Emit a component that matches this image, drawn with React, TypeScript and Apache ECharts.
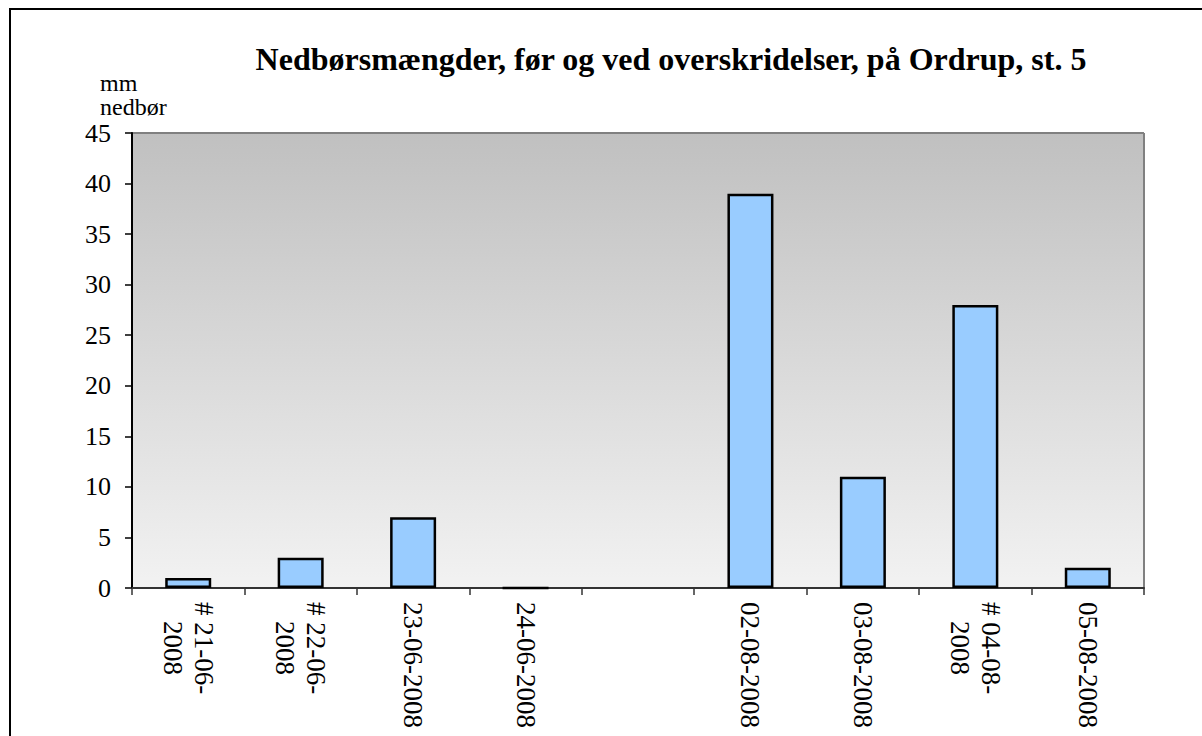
import React, { useEffect, useRef } from "react";
import * as echarts from "echarts";

const categories = [
  "# 21-06-2008",
  "# 22-06-2008",
  "23-06-2008",
  "24-06-2008",
  "",
  "02-08-2008",
  "03-08-2008",
  "# 04-08-2008",
  "05-08-2008",
];
const rainfall: (number | null)[] = [1, 3, 7, 0, null, 39, 11, 28, 2];
const titleText = "Nedbørsmængder, før og ved overskridelser, på Ordrup, st. 5";
const yAxisName = "mm\nnedbør";

const FONT = "Liberation Serif";

export default function App() {
  const ref = useRef<HTMLDivElement>(null);
  useEffect(() => {
    if (!ref.current) return;
    const chart = echarts.init(ref.current, undefined, { renderer: "svg" });
    chart.setOption({
      animation: false,
      backgroundColor: "#ffffff",
      textStyle: { fontFamily: FONT },
      title: {
        text: titleText,
        left: 666,
        top: 38,
        textAlign: "center",
        textStyle: { fontFamily: FONT, fontSize: 32, fontWeight: "bold", color: "#000" },
      },
      graphic: [
        { type: "line", shape: { x1: 9, y1: 9, x2: 1202, y2: 9 }, style: { stroke: "#000", lineWidth: 2 } },
        { type: "line", shape: { x1: 10, y1: 9, x2: 10, y2: 736 }, style: { stroke: "#000", lineWidth: 2 } },
        {
          type: "text",
          left: 100,
          top: 71,
          style: { text: yAxisName, fontFamily: FONT, fontSize: 24, fill: "#000", lineHeight: 24 },
        },
        { type: "line", shape: { x1: 132, y1: 133, x2: 1144, y2: 133 }, style: { stroke: "#808080", lineWidth: 2 } },
        { type: "line", shape: { x1: 1144, y1: 133, x2: 1144, y2: 588 }, style: { stroke: "#808080", lineWidth: 2 } },
      ],
      grid: {
        left: 132,
        top: 133,
        right: 58,
        bottom: 148,
        show: true,
        borderWidth: 0,
        backgroundColor: {
          type: "linear",
          x: 0,
          y: 0,
          x2: 0,
          y2: 1,
          colorStops: [
            { offset: 0, color: "#c0c0c0" },
            { offset: 1, color: "#f2f2f2" },
          ],
        },
      },
      xAxis: {
        type: "category",
        data: categories,
        boundaryGap: true,
        axisLine: { show: true, lineStyle: { color: "#333333", width: 2 } },
        axisTick: { show: true, length: 7, alignWithLabel: false, lineStyle: { color: "#333333", width: 1.5 } },
        axisLabel: {
          interval: 0,
          rotate: -90,
          margin: 14,
          fontFamily: FONT,
          fontSize: 27,
          color: "#000",
          lineHeight: 31,
          formatter: (v: string) =>
            v.startsWith("#")
              ? v.replace(/^(# \d\d-\d\d-)(.*)$/, "{c|$1}\n{c|$2}")
              : v,
          rich: {
            c: { align: "center", fontFamily: FONT, fontSize: 27, color: "#000", lineHeight: 31 },
          },
        },
        splitLine: { show: false },
      },
      yAxis: {
        type: "value",
        min: 0,
        max: 45,
        interval: 5,
        axisLine: { show: true, lineStyle: { color: "#000", width: 2 } },
        axisTick: { show: true, length: 7, lineStyle: { color: "#000", width: 1.5 } },
        axisLabel: { fontFamily: FONT, fontSize: 26, color: "#000", margin: 21 },
        splitLine: { show: false },
      },
      series: [
        {
          type: "bar",
          data: rainfall,
          barWidth: 46,
          itemStyle: { color: "#99ccff", borderColor: "#000", borderWidth: 2.5 },
        },
      ],
    });
    return () => chart.dispose();
  }, []);
  return (
    <div
      ref={ref}
      style={{ position: "fixed", left: 0, top: 0, width: 1202, height: 736 }}
    />
  );
}
